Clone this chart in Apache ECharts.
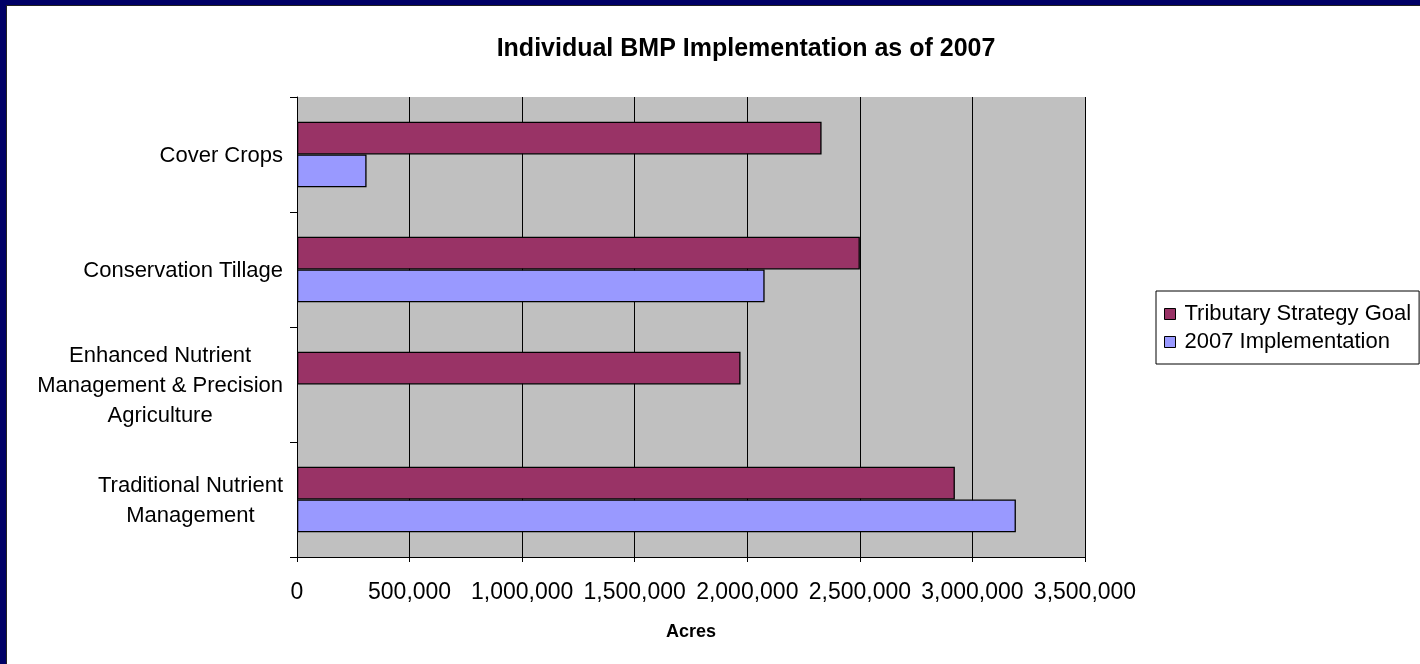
<!DOCTYPE html>
<html>
<head>
<meta charset="utf-8">
<script src="https://cdn.jsdelivr.net/npm/echarts@6/dist/echarts.min.js"></script>
<style>
html,body{margin:0;padding:0;background:#fff;}
#chart{position:absolute;left:0;top:0;width:1420px;height:664px;}
.fr{position:absolute;pointer-events:none;}
</style>
</head>
<body>
<div id="chart"></div>
<div class="fr" style="left:0;top:0;width:1420px;height:5px;background:#000066;"></div>
<div class="fr" style="left:0;top:0;width:6px;height:664px;background:#000066;"></div>
<div class="fr" style="left:6px;top:5px;width:1414px;height:1px;background:#222;"></div>
<div class="fr" style="left:6px;top:5px;width:1px;height:659px;background:#222;"></div>
<script>
const categories = ['Traditional Nutrient\nManagement', 'Enhanced Nutrient\nManagement & Precision\nAgriculture', 'Conservation Tillage', 'Cover Crops'];
const goalValues = [2922000, 1970000, 2500000, 2330000];
const implValues = [3193000, null, 2077000, 309000];
const seriesNames = ['Tributary Strategy Goal', '2007 Implementation'];
const xTicks = {min: 0, max: 3500000, interval: 500000};

const FONT = '"Liberation Sans", Arial, sans-serif';
const chart = echarts.init(document.getElementById('chart'));
chart.setOption({
  animation: false,
  backgroundColor: 'transparent',
  textStyle: {fontFamily: FONT, color: '#000'},
  title: {
    text: 'Individual BMP Implementation as of 2007',
    left: 741, top: 32, textAlign: 'center',
    textStyle: {fontFamily: FONT, fontWeight: 'bold', fontSize: 25, color: '#000'}
  },
  legend: {
    orient: 'vertical',
    left: 1156, top: 291,
    data: seriesNames,
    icon: 'rect',
    itemWidth: 11, itemHeight: 11,
    itemGap: 6,
    padding: [12, 8, 11, 8],
    borderColor: '#000', borderWidth: 1,
    textStyle: {fontFamily: FONT, fontSize: 22, lineHeight: 22, color: '#000', padding: [0, 0, 0, 4]},
    itemStyle: {borderColor: '#000', borderWidth: 1}
  },
  grid: {
    left: 297, top: 97, width: 788, height: 460,
    show: true, backgroundColor: '#C0C0C0', borderWidth: 0
  },
  xAxis: {
    type: 'value',
    min: xTicks.min, max: xTicks.max, interval: xTicks.interval,
    name: 'Acres', nameLocation: 'middle', nameGap: 66,
    nameTextStyle: {fontFamily: FONT, fontWeight: 'bold', fontSize: 18, color: '#000'},
    axisLine: {show: true, lineStyle: {color: '#000', width: 1}},
    axisTick: {show: true, length: 5, lineStyle: {color: '#000'}},
    splitLine: {show: true, lineStyle: {color: '#000', width: 1}},
    axisLabel: {
      margin: 24, fontSize: 23, color: '#000', fontFamily: FONT,
      formatter: v => v.toLocaleString('en-US')
    }
  },
  yAxis: {
    type: 'category',
    data: categories,
    axisLine: {show: true, lineStyle: {color: '#000', width: 1}},
    axisTick: {show: true, length: 7, lineStyle: {color: '#000'}},
    splitLine: {show: false},
    axisLabel: {
      margin: 14, align: 'right', color: '#000',
      formatter: v => v.split('\n').map(s => '{c|' + s + '}').join('\n'),
      rich: {c: {align: 'center', fontSize: 22, lineHeight: 30, fontFamily: FONT, color: '#000', padding: [2, 0, 0, 0]}}
    }
  },
  series: [
    {
      name: seriesNames[0], type: 'bar', data: goalValues,
      barGap: '0%', barCategoryGap: '43%',
      itemStyle: {color: '#993366', borderColor: '#000', borderWidth: 1.3}
    },
    {
      name: seriesNames[1], type: 'bar', data: implValues,
      barGap: '0%', barCategoryGap: '43%',
      itemStyle: {color: '#9999FF', borderColor: '#000', borderWidth: 1.3}
    }
  ]
});
</script>
</body>
</html>
